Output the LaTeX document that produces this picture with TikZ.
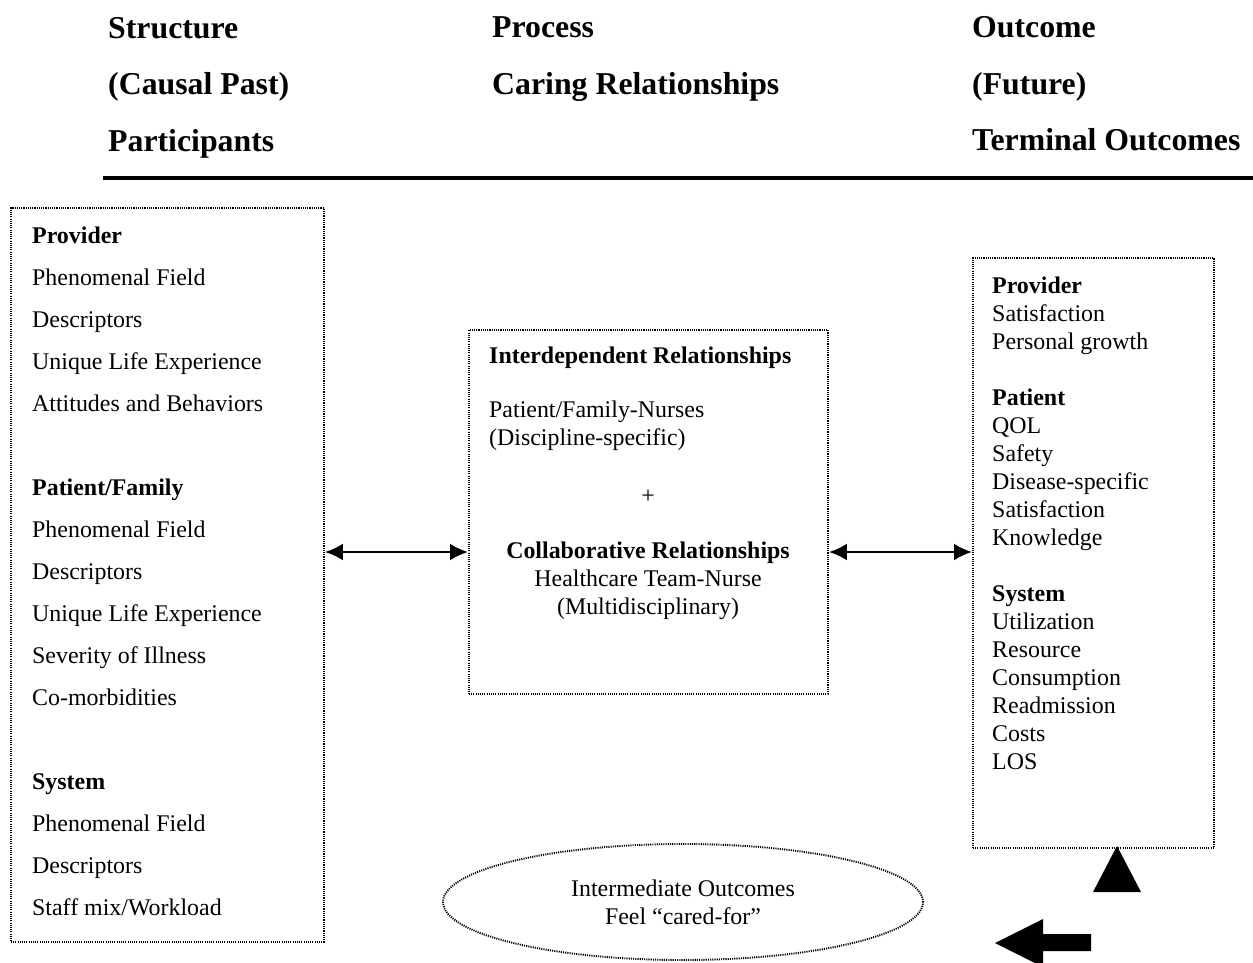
\documentclass[tikz,border=0pt]{standalone}
\usepackage{fontspec}
\setmainfont{Liberation Serif}
\usetikzlibrary{shapes.geometric,arrows.meta}
\begin{document}
\begin{tikzpicture}[x=1pt,y=-1pt,
  dotline/.style={draw, line width=1.9pt, dash pattern=on 1.1pt off 1.1pt},
  dotbox/.style={dotline, inner sep=0pt, anchor=north west},
  bodyL/.style={font=\fontsize{23.9}{42}\selectfont, inner sep=0pt, align=left, anchor=west},
  bodyS/.style={font=\fontsize{23.9}{28}\selectfont, inner sep=0pt, align=left, anchor=west},
  bodyC/.style={font=\fontsize{23.9}{28}\selectfont, inner sep=0pt, align=center},
  hdr/.style={font=\fontsize{31.8}{56.5}\selectfont\bfseries, inner sep=0pt, align=left, anchor=west},
  biarr/.style={{Latex[length=18pt,width=17pt]}-{Latex[length=18pt,width=17pt]}, line width=2.5pt},
  solidshape/.style={fill=black, draw=none}
]
\useasboundingbox (0,0) rectangle (1253,962);

% headers
\node[hdr] (h1) at (108,87.5) {Structure\\(Causal Past)\\Participants};
\node[hdr] (h2) at (492,59) {Process\\Caring Relationships};
\node[hdr] (h3) at (972,84) {Outcome\\(Future)\\Terminal Outcomes};
\coordinate (ruleL) at (103,178);
\coordinate (ruleR) at (1253,178);
\draw[line width=4.5pt] (ruleL) -- (ruleR);

% boxes
\node[dotbox, minimum width=313pt, minimum height=734pt] (lbox) at (10,207) {};
\node[dotbox, minimum width=359pt, minimum height=364pt] (mbox) at (468,329) {};
\node[dotbox, minimum width=241pt, minimum height=590pt] (rbox) at (972,257) {};

% left text
\node[bodyL] (ltext) at (32,571.5) {\textbf{Provider}\\Phenomenal Field\\Descriptors\\Unique Life Experience\\Attitudes and Behaviors\\[42pt]
\textbf{Patient/Family}\\Phenomenal Field\\Descriptors\\Unique Life Experience\\Severity of Illness\\Co-morbidities\\[42pt]
\textbf{System}\\Phenomenal Field\\Descriptors\\Staff mix/Workload};

% middle text
\node[bodyS] (m1) at (489,358) {\textbf{Interdependent Relationships}};
\node[bodyS] (m2) at (489,426) {Patient/Family-Nurses\\(Discipline-specific)};
\node[bodyC] (mplus) at (648,497) {+};
\node[bodyC] (m3) at (648,581) {\textbf{Collaborative Relationships}\\Healthcare Team-Nurse\\(Multidisciplinary)};

% right text
\node[bodyS] (rtext) at (992,523) {\textbf{Provider}\\Satisfaction\\Personal growth\\[28pt]
\textbf{Patient}\\QOL\\Safety\\Disease-specific\\Satisfaction\\Knowledge\\[28pt]
\textbf{System}\\Utilization\\Resource\\Consumption\\Readmission\\Costs\\LOS};

% connectors
\coordinate (arrY) at (0,552);
\draw[biarr] (lbox.east |- arrY) -- (mbox.west |- arrY);
\draw[biarr] (mbox.east |- arrY) -- (rbox.west |- arrY);

% ellipse
\node[ellipse, dotline, minimum width=480pt, minimum height=116pt, inner sep=0pt,
  font=\fontsize{23.9}{28}\selectfont, align=center] (ell) at (683,902) {Intermediate Outcomes\\Feel “cared-for”};

% solid triangle and block arrow
\fill[solidshape] (1117,846) -- (1141,892) -- (1093,892) -- cycle;
\fill[solidshape] (995,943) -- (1043,919) -- (1043,934) -- (1091,934) -- (1091,951) -- (1043,951) -- (1043,967) -- cycle;
\end{tikzpicture}
\end{document}
